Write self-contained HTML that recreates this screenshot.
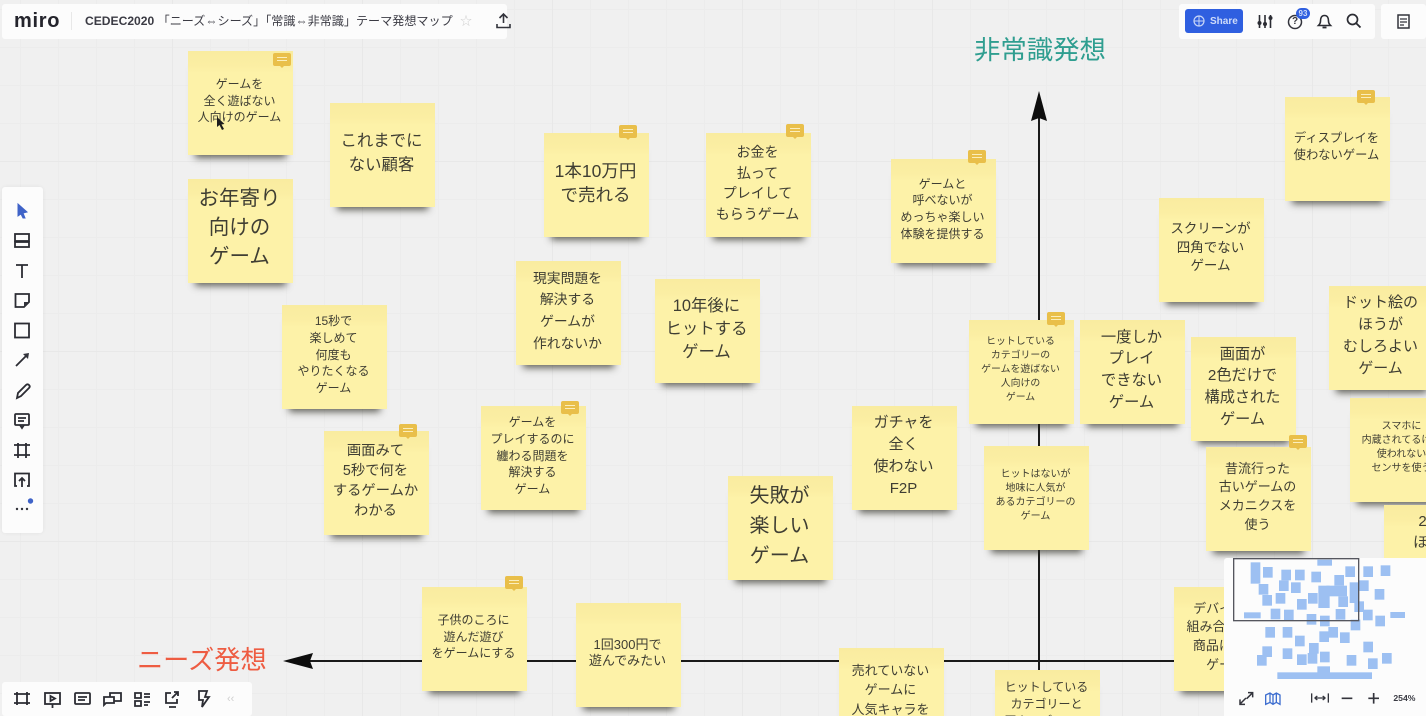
<!DOCTYPE html>
<html lang="ja">
<head>
<meta charset="utf-8">
<title>CEDEC2020 テーマ発想マップ</title>
<style>
html,body{margin:0;padding:0;width:1426px;height:716px;overflow:hidden}
body{position:relative;font-family:"Liberation Sans","Noto Sans CJK JP",sans-serif}
#w{position:absolute;left:0;top:0;width:1426px;height:716px;overflow:hidden;background-color:#f0f0f0;
background-image:
linear-gradient(to right,#e8e8e8 1px,transparent 1px),
linear-gradient(to bottom,#e8e8e8 1px,transparent 1px),
linear-gradient(to right,#ececec 1px,transparent 1px),
linear-gradient(to bottom,#ececec 1px,transparent 1px);
background-size:190px 190px,190px 190px,38px 38px,38px 38px;background-position:172px 161px,172px 161px,20px 9px,20px 9px}
.n{position:absolute;width:105px;height:104px;box-sizing:border-box;display:flex;align-items:center;justify-content:center;text-align:center;color:#3f3e33;
background:linear-gradient(to bottom,#f9eca0 0,#fbeea3 14px,#fdf2a8 22px,#fdf2a8 100%);
box-shadow:0 10px 7px -7px rgba(40,40,30,.7);padding-bottom:4px;padding-right:2px;white-space:nowrap;filter:blur(.3px)}
.t{align-items:flex-start;overflow:hidden}
.c{position:absolute;width:18px;height:13px;background:#e9bf4a;border-radius:2px}
.c:before{content:"";position:absolute;left:4px;right:4px;top:4px;height:4px;border-top:1px solid #fbeebc;border-bottom:1px solid #fbeebc;box-sizing:border-box}
.c:after{content:"";position:absolute;left:7px;top:13px;border:2px solid transparent;border-top:2px solid #e9bf4a}
.p{position:absolute;background:#fcfcfc;border-radius:3px}
svg{position:absolute;overflow:visible}
.ic{fill:none;stroke:#2b2c33;stroke-width:1.8}
.h{position:absolute;white-space:nowrap;line-height:1}
</style>
</head>
<body>
<div id="w">

<!-- axes -->
<svg style="left:0;top:0" width="1426" height="716">
<line x1="1039" y1="110" x2="1039" y2="716" stroke="#1a1a1a" stroke-width="2"/>
<line x1="300" y1="661" x2="1226" y2="661" stroke="#1a1a1a" stroke-width="2"/>
<polygon points="1039,91 1047,121 1039,118 1031,121" fill="#0d0d0d"/>
<polygon points="283,661 313,653 310,661 313,669" fill="#0d0d0d"/>
</svg>
<div class="h" style="left:974px;top:37px;font-size:26.4px;color:#2f9e90">非常識発想</div>
<div class="h" style="left:137px;top:647px;font-size:26.2px;color:#ee5c42">ニーズ発想</div>

<!-- sticky notes -->
<div class="n" style="left:188px;top:51px;font-size:12px;line-height:16.7px">ゲームを<br>全く遊ばない<br>人向けのゲーム</div>
<div class="n" style="left:330px;top:103px;font-size:16.4px;line-height:24px">これまでに<br>ない顧客</div>
<div class="n" style="left:188px;top:179px;font-size:20.5px;line-height:29px;padding-bottom:8px">お年寄り<br>向けの<br>ゲーム</div>
<div class="n" style="left:544px;top:133px;font-size:17.5px;line-height:24px">1本10万円<br>で売れる</div>
<div class="n" style="left:706px;top:133px;font-size:14px;line-height:20.5px">お金を<br>払って<br>プレイして<br>もらうゲーム</div>
<div class="n" style="left:891px;top:159px;font-size:12px;line-height:16.7px">ゲームと<br>呼べないが<br>めっちゃ楽しい<br>体験を提供する</div>
<div class="n" style="left:1285px;top:97px;font-size:12.3px;line-height:16.7px">ディスプレイを<br>使わないゲーム</div>
<div class="n" style="left:1159px;top:198px;font-size:13.5px;line-height:18.5px">スクリーンが<br>四角でない<br>ゲーム</div>
<div class="n" style="left:516px;top:261px;font-size:13.8px;line-height:21.7px">現実問題を<br>解決する<br>ゲームが<br>作れないか</div>
<div class="n" style="left:655px;top:279px;font-size:16.4px;line-height:23px">10年後に<br>ヒットする<br>ゲーム</div>
<div class="n" style="left:282px;top:305px;font-size:12px;line-height:16.7px">15秒で<br>楽しめて<br>何度も<br>やりたくなる<br>ゲーム</div>
<div class="n" style="left:969px;top:320px;font-size:9.9px;line-height:14px">ヒットしている<br>カテゴリーの<br>ゲームを遊ばない<br>人向けの<br>ゲーム</div>
<div class="n" style="left:1080px;top:320px;font-size:15.3px;line-height:21.7px">一度しか<br>プレイ<br>できない<br>ゲーム</div>
<div class="n" style="left:1191px;top:337px;font-size:15.2px;line-height:21.7px">画面が<br>2色だけで<br>構成された<br>ゲーム</div>
<div class="n" style="left:1329px;top:286px;font-size:15px;line-height:22px">ドット絵の<br>ほうが<br>むしろよい<br>ゲーム</div>
<div class="n" style="left:1350px;top:398px;font-size:10px;line-height:14px">スマホに<br>内蔵されてるけど<br>使われない<br>センサを使う</div>
<div class="n" style="left:324px;top:431px;font-size:14.3px;line-height:19.8px;padding-bottom:2px">画面みて<br>5秒で何を<br>するゲームか<br>わかる</div>
<div class="n" style="left:481px;top:406px;font-size:12px;line-height:16.7px">ゲームを<br>プレイするのに<br>纏わる問題を<br>解決する<br>ゲーム</div>
<div class="n" style="left:852px;top:406px;font-size:15px;line-height:22px">ガチャを<br>全く<br>使わない<br>F2P</div>
<div class="n" style="left:984px;top:446px;font-size:10px;line-height:14px">ヒットはないが<br>地味に人気が<br>あるカテゴリーの<br>ゲーム</div>
<div class="n" style="left:1206px;top:447px;font-size:13px;line-height:18.7px">昔流行った<br>古いゲームの<br>メカニクスを<br>使う</div>
<div class="n" style="left:728px;top:476px;font-size:20px;line-height:30px">失敗が<br>楽しい<br>ゲーム</div>
<div class="n t" style="left:1384px;top:505px;font-size:15px;line-height:21px;padding-top:6px">2Dの<br>ほうが</div>
<div class="n" style="left:422px;top:587px;font-size:12px;line-height:16.7px">子供のころに<br>遊んだ遊び<br>をゲームにする</div>
<div class="n" style="left:576px;top:603px;font-size:13px;line-height:16.5px">1回300円で<br>遊んでみたい</div>
<div class="n" style="left:1174px;top:587px;font-size:13px;line-height:18.7px">デバイスを<br>組み合わせた<br>商品にする<br>ゲーム</div>
<div class="n t" style="left:839px;top:648px;height:68px;font-size:13px;line-height:19.3px;padding-top:13px;padding-bottom:0">売れていない<br>ゲームに<br>人気キャラを</div>
<div class="n t" style="left:995px;top:670px;height:46px;font-size:12px;line-height:17px;padding-top:9px;padding-bottom:0">ヒットしている<br>カテゴリーと<br>同カテゴリーの</div>

<!-- comment badges -->
<div class="c" style="left:273px;top:53px"></div>
<div class="c" style="left:619px;top:125px"></div>
<div class="c" style="left:786px;top:124px"></div>
<div class="c" style="left:968px;top:150px"></div>
<div class="c" style="left:1357px;top:90px"></div>
<div class="c" style="left:1047px;top:312px"></div>
<div class="c" style="left:399px;top:424px"></div>
<div class="c" style="left:561px;top:401px"></div>
<div class="c" style="left:1289px;top:435px"></div>
<div class="c" style="left:505px;top:576px"></div>

<!-- mouse cursor -->
<svg style="left:216px;top:117px" width="10" height="14"><polygon points="1,0 1,10 3.5,8 6,13 8,12 5.5,7.5 8.5,7" fill="#1d1d1d"/></svg>

<!-- top-left bar -->
<div class="p" style="left:2px;top:4px;width:505px;height:35px"></div>
<div class="h" style="left:14px;top:11px;font-size:20px;font-weight:bold;color:#24242c;letter-spacing:.7px">miro</div>
<div style="position:absolute;left:71px;top:12px;width:1px;height:18px;background:#e8e8e8"></div>
<div class="h" style="left:85px;top:15px;font-size:12.1px;color:#3b3b44;font-weight:bold">CEDEC2020 <span style="font-weight:normal">「ニーズ⇔シーズ」「常識⇔非常識」テーマ発想マップ</span></div>
<div class="h" style="left:460px;top:15px;font-size:12px;color:#cfcfcf">☆</div>
<svg style="left:496px;top:13px" width="15" height="16"><path d="M7.5 1V10M3.5 5L7.5 1L11.5 5M1 11V14.5H14V11" fill="none" stroke="#33343c" stroke-width="1.6"/></svg>

<!-- top-right bars -->
<div class="p" style="left:1179px;top:4px;width:196px;height:35px"></div>
<div class="p" style="left:1381px;top:4px;width:45px;height:35px"></div>
<div style="position:absolute;left:1185px;top:9px;width:58px;height:24px;background:#2f5fe0;border-radius:3px"></div>
<svg style="left:1193px;top:15px" width="12" height="12"><circle cx="6" cy="6" r="5" fill="none" stroke="#c7d5f7" stroke-width="1.2"/><path d="M1 6H11M6 1V11" stroke="#c7d5f7" stroke-width="1"/></svg>
<div class="h" style="left:1210px;top:16.5px;font-size:10px;font-weight:bold;color:#cfdcf9">Share</div>
<svg style="left:1257px;top:14px" width="16" height="15"><path d="M2.5 1V14M8 1V14M13.5 1V14" stroke="#2b2c33" stroke-width="1.6"/><circle cx="2.5" cy="9" r="2" fill="#2b2c33"/><circle cx="8" cy="10" r="2" fill="#2b2c33"/><circle cx="13.5" cy="4" r="2" fill="#2b2c33"/></svg>
<svg style="left:1287px;top:14px" width="16" height="16"><circle cx="8" cy="8" r="6.5" fill="none" stroke="#33343c" stroke-width="1.5"/></svg>
<div class="h" style="left:1292px;top:17px;font-size:10px;font-weight:bold;color:#33343c">?</div>
<div style="position:absolute;left:1296px;top:8px;width:14px;height:11px;background:#2f5fe0;border-radius:6px;color:#cfdcf9;font-size:8px;line-height:11px;text-align:center;font-weight:bold">93</div>
<svg style="left:1317px;top:14px" width="15" height="16"><path d="M7.5 1.5C4.5 1.5 3.5 4 3.5 7C3.5 9.5 2.5 10.5 1.5 11.5H13.5C12.5 10.5 11.5 9.5 11.5 7C11.5 4 10.5 1.5 7.5 1.5Z" fill="none" stroke="#2b2c33" stroke-width="1.6"/><path d="M5.5 13.5H9.5" stroke="#2b2c33" stroke-width="1.8"/></svg>
<svg style="left:1346px;top:13px" width="16" height="16"><circle cx="6.5" cy="6.5" r="5" fill="none" stroke="#2b2c33" stroke-width="1.7"/><path d="M10.2 10.2L14.5 14.5" stroke="#2b2c33" stroke-width="1.8"/></svg>
<svg style="left:1397px;top:14px" width="13" height="15"><rect x="1" y="1" width="11" height="13" fill="none" stroke="#33343c" stroke-width="1.5"/><path d="M3 5H10M3 8H10M3 11H7" stroke="#33343c" stroke-width="1.2"/></svg>

<!-- left toolbar -->
<div class="p" style="left:2px;top:187px;width:41px;height:346px;box-shadow:0 0 4px rgba(0,0,0,.06)"></div>
<svg style="left:0;top:180px" width="60" height="360">
<polygon points="18,24 27,32 23,33 25,38 23,38 21,34 18,36" fill="#3f63c8" stroke="#3f63c8" stroke-width="1"/>
<g class="ic">
<rect x="15" y="54" width="14" height="7"/><rect x="15" y="62" width="14" height="5"/>
<path d="M16 85H28M22 85V98"/>
<path d="M15.5 114H29V122L24 127H15.5Z"/>
<rect x="15" y="143.5" width="14" height="14"/>
<path d="M16 186L27 175"/>
<path d="M17 218L18 213L26 205C27 204 28 204 29 205C30 206 30 207 29 208L21 216Z"/>
<rect x="15" y="234" width="14" height="11" rx="1"/><path d="M18 238H26M18 241H24M20 245L22 248L24 245"/>
<path d="M14 265H30M14 275H30M18 263V278M26 263V278"/>
<path d="M17 306H15V293.5H29V306H27M22 307V298M19 301L22 298L25 301"/>
</g>
<polygon points="29,173 28,179 23,174" fill="#33343c"/>
<polygon points="29,122 24,127 24,122" fill="#33343c"/>
<circle cx="17" cy="329" r="1.2" fill="#33343c"/><circle cx="22" cy="329" r="1.2" fill="#33343c"/><circle cx="27" cy="329" r="1.2" fill="#33343c"/>
<circle cx="30.5" cy="321" r="2.7" fill="#3f63c8"/>
</svg>

<!-- bottom-left toolbar -->
<div class="p" style="left:2px;top:682px;width:250px;height:34px"></div>
<svg style="left:0;top:670px" width="260" height="46">
<g class="ic">
<path d="M14 24H30M14 33H30M17 22V35M27 22V35"/>
<rect x="45" y="23" width="15" height="11"/><path d="M52.5 34V38M50.5 26V31L55 28.5Z"/>
<rect x="75" y="23" width="15" height="11" rx="1"/><path d="M78 27H87M78 30H85"/>
<path d="M104 35V27H114V33H106ZM110 27V23H121V31H114"/>
<path d="M135 23H141V28H135ZM135 31H141V36H135ZM144 24H150M144 27H150M144 32H150M144 35H148"/>
<path d="M171 23H166V33H177V29M172 28L178 22M174 22H178V26M169 37H176"/>
<path d="M199 21H207L205 27H209L202 37L203 30H199Z"/>
</g>
<text x="227" y="32" font-size="11" fill="#cfcfcf" font-family="Liberation Sans, sans-serif">‹‹</text>
</svg>

<!-- minimap -->
<div style="position:absolute;left:1224px;top:558px;width:202px;height:158px;background:#fcfcfc;border-radius:3px 0 0 0"></div>
<svg style="left:1220px;top:550px" width="206" height="166" viewBox="0 0 618 498">
<g fill="#9dc0f2" stroke="#9dc0f2" stroke-width="2">
<rect x="93" y="38" width="27" height="62"/><rect x="130" y="52" width="27" height="30"/><rect x="185" y="60" width="27" height="30"/><rect x="226" y="60" width="27" height="30"/><rect x="275" y="66" width="27" height="30"/><rect x="293" y="30" width="42" height="16"/><rect x="377" y="50" width="27" height="30"/><rect x="431" y="50" width="27" height="30"/><rect x="483" y="47" width="27" height="30"/><rect x="344" y="76" width="27" height="30"/><rect x="178" y="92" width="27" height="30"/><rect x="214" y="98" width="27" height="30"/><rect x="117" y="103" width="27" height="30"/><rect x="128" y="136" width="27" height="30"/><rect x="168" y="130" width="27" height="30"/><rect x="232" y="148" width="27" height="30"/><rect x="265" y="130" width="27" height="30"/><rect x="296" y="108" width="32" height="65"/><rect x="320" y="108" width="60" height="30"/><rect x="356" y="140" width="27" height="30"/><rect x="390" y="98" width="27" height="60"/><rect x="418" y="92" width="27" height="30"/><rect x="465" y="118" width="27" height="30"/><rect x="404" y="155" width="27" height="30"/><rect x="348" y="178" width="27" height="30"/><rect x="430" y="180" width="27" height="30"/><rect x="467" y="198" width="27" height="30"/><rect x="512" y="187" width="42" height="16"/><rect x="73" y="188" width="48" height="16"/><rect x="153" y="177" width="27" height="30"/><rect x="193" y="180" width="27" height="30"/><rect x="261" y="193" width="27" height="30"/><rect x="301" y="198" width="27" height="30"/><rect x="393" y="210" width="27" height="30"/><rect x="137" y="232" width="27" height="30"/><rect x="189" y="232" width="27" height="30"/><rect x="226" y="258" width="27" height="30"/><rect x="326" y="232" width="27" height="30"/><rect x="299" y="245" width="27" height="30"/><rect x="361" y="248" width="27" height="30"/><rect x="268" y="280" width="27" height="30"/><rect x="431" y="276" width="27" height="30"/><rect x="128" y="290" width="27" height="30"/><rect x="112" y="316" width="27" height="30"/><rect x="189" y="296" width="27" height="30"/><rect x="232" y="314" width="27" height="30"/><rect x="264" y="310" width="27" height="30"/><rect x="301" y="306" width="27" height="30"/><rect x="381" y="316" width="27" height="30"/><rect x="445" y="326" width="27" height="30"/><rect x="487" y="310" width="27" height="30"/><rect x="293" y="350" width="36" height="20"/><rect x="173" y="368" width="282" height="18"/>
</g>
<rect x="41" y="26" width="375" height="186" fill="none" stroke="#55565e" stroke-width="4"/>
<g fill="none" stroke="#33343c" stroke-width="4.5">
<path d="M60 462L78 444M84 428H98V442M98 428L80 446M60 448V463H75"/>
</g>
<path d="M137 435L150 429L159 435L169 429L180 435V463L169 457L159 463L150 457L137 463ZM150 429V457M159 435V463M169 429V457" fill="none" stroke="#3f6fd0" stroke-width="4"/>
<path d="M275 430V458M325 430V458M284 444H316M284 444L292 438M284 444L292 450M316 444L308 438M316 444L308 450" fill="none" stroke="#33343c" stroke-width="4"/>
<path d="M365 445H397M445 445H477M461 429V461" fill="none" stroke="#33343c" stroke-width="5"/>
<text x="520" y="453" font-size="26" font-weight="bold" fill="#3a3b43" font-family="Liberation Sans, sans-serif">254%</text>
</svg>

</div>
</body>
</html>
